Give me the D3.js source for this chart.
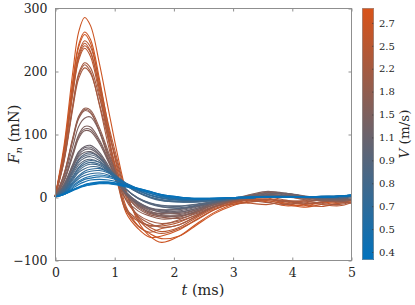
<!DOCTYPE html>
<html>
<head>
<meta charset="utf-8">
<script src="https://cdn.jsdelivr.net/npm/d3@7"></script>
<style>
  body { margin: 0; background: #fff; }
</style>
</head>
<body>
<div id="chart"></div>
<script>
// time samples (ms)
var timeMs = [0, 0.15, 0.3, 0.4, 0.5, 0.6, 0.75, 0.9, 1.05, 1.2, 1.4, 1.6, 1.8, 2.1, 2.4, 2.7, 3.0, 3.3, 3.6, 3.9, 4.2, 4.5, 4.8, 5.0];

// colorbar tick labels, V (m/s)
var velocityLabels = ["0.4", "0.5", "0.7", "0.8", "0.9", "1.1", "1.5", "1.8", "2.2", "2.5", "2.7"];

// velocity index (into velocityLabels) of each curve
var curveVelocity = [10, 10, 10, 9, 9, 9, 9, 8, 8, 8, 7, 7, 7, 6, 6, 6, 6, 5, 5, 5, 5,
                     4, 4, 4, 4, 3, 3, 3, 3, 2, 2, 2, 1, 1, 1, 0, 0, 0, 0];

// normal force Fn (mN) of each curve at timeMs
var curveForce = [
  [0, 80, 198, 262, 285, 272, 212, 140, 70, 10, -38, -62, -72, -62, -42, -24, -12, -8, -6, -12, -16, -12, -8, -6],
  [0, 74, 184, 242, 262, 250, 188, 112, 45, -15, -45, -58, -66, -62, -44, -26, -14, -6, -4, -10, -14, -9, -6, -4],
  [0, 72, 180, 238, 258, 244, 180, 100, 30, -25, -50, -64, -62, -52, -35, -20, -10, -5, -8, -14, -12, -8, -10, -5],
  [0, 70, 172, 228, 248, 238, 182, 116, 60, 8, -34, -52, -58, -50, -36, -20, -9, -3, -2, -8, -12, -15, -10, -8],
  [0, 68, 170, 224, 244, 231, 170, 98, 35, -20, -46, -56, -50, -44, -30, -16, -8, -10, -12, -6, -8, -12, -14, -9],
  [0, 66, 166, 220, 240, 229, 174, 108, 50, 0, -32, -48, -55, -48, -32, -18, -10, -4, -6, -10, -6, -4, -8, -6],
  [0, 65, 163, 217, 236, 223, 163, 92, 25, -22, -38, -45, -46, -40, -28, -15, -12, -8, -4, -6, -11, -8, -5, -3],
  [0, 58, 146, 196, 213, 205, 158, 104, 55, 5, -30, -42, -48, -44, -30, -16, -8, -2, 0, -5, -10, -8, -4, -2],
  [0, 57, 144, 193, 210, 199, 146, 82, 28, -18, -36, -46, -44, -36, -24, -12, -6, -6, -9, -12, -8, -5, -7, -10],
  [0, 55, 140, 188, 205, 196, 148, 92, 40, -5, -28, -38, -42, -38, -28, -15, -7, -3, -4, -7, -6, -10, -12, -8],
  [0, 36, 94, 128, 141, 138, 110, 72, 34, 4, -18, -28, -32, -34, -26, -15, -6, 0, 4, 2, -4, -6, -3, -2],
  [0, 35, 92, 126, 139, 135, 104, 62, 24, -4, -22, -30, -35, -32, -22, -12, -4, 3, 7, 5, 0, -4, -6, -3],
  [0, 34, 90, 124, 137, 133, 105, 66, 29, 2, -16, -26, -30, -30, -24, -14, -6, -2, 2, 0, -3, -6, -8, -5],
  [0, 30, 80, 112, 125, 127, 104, 68, 32, 6, -14, -24, -30, -30, -22, -12, -4, 2, 8, 6, 1, -3, -5, -4],
  [0, 26, 70, 99, 112, 111, 91, 60, 28, 5, -12, -22, -28, -28, -20, -10, -3, 4, 9, 4, -2, -2, -4, -2],
  [0, 25, 68, 96, 108, 107, 88, 58, 27, 4, -13, -24, -26, -24, -18, -10, -4, 0, 3, 6, 1, -5, -4, -3],
  [0, 24, 65, 93, 105, 104, 85, 56, 26, 4, -11, -20, -24, -26, -20, -12, -5, 0, 2, 1, 0, -3, -6, -4],
  [0, 20, 52, 72, 80, 82, 71, 50, 27, 8, -8, -18, -22, -24, -18, -10, -4, 1, 5, 6, 2, -1, -2, -1],
  [0, 19, 50, 70, 78, 79, 68, 48, 25, 7, -9, -19, -24, -22, -16, -9, -3, 2, 6, 3, 0, -2, -3, -2],
  [0, 18, 48, 67, 75, 76, 66, 46, 24, 6, -10, -18, -21, -20, -15, -9, -4, 0, 3, 2, -1, -3, -2, -1],
  [0, 17, 46, 64, 71, 72, 63, 44, 23, 6, -8, -17, -20, -19, -14, -8, -3, 1, 2, 3, 0, -2, -3, -1],
  [0, 16, 43, 60, 68, 70, 63, 47, 29, 13, -2, -11, -16, -18, -14, -8, -3, 0, 2, 2, 0, -1, -1, 0],
  [0, 15, 41, 58, 65, 67, 61, 45, 28, 12, -2, -10, -15, -17, -13, -8, -3, 0, 1, 1, 0, -1, -2, 0],
  [0, 14, 39, 55, 62, 64, 58, 43, 27, 12, -2, -10, -14, -15, -12, -7, -3, -1, 0, 1, 0, -1, -1, 0],
  [0, 13, 36, 51, 58, 60, 55, 41, 26, 12, -1, -9, -13, -14, -11, -7, -3, -1, 0, 0, 0, -1, 0, 1],
  [0, 12, 33, 47, 55, 58, 55, 45, 32, 20, 8, 0, -5, -8, -8, -6, -3, -1, 0, 0, 0, 0, 0, 1],
  [0, 11, 31, 45, 52, 55, 52, 43, 31, 19, 7, -1, -6, -8, -8, -5, -3, -1, 0, 0, 0, 0, 0, 1],
  [0, 10, 29, 42, 49, 52, 50, 41, 30, 19, 8, 0, -5, -7, -7, -5, -2, -1, 0, 0, 0, 0, 1, 1],
  [0, 9, 27, 39, 45, 48, 47, 39, 29, 18, 7, 0, -4, -7, -6, -4, -2, -1, 0, 0, 0, 0, 0, 1],
  [0, 8, 24, 34, 41, 44, 45, 40, 32, 22, 11, 3, -2, -5, -5, -4, -2, -1, 0, 0, 0, 0, 1, 2],
  [0, 7, 22, 32, 38, 41, 42, 38, 30, 21, 11, 3, -2, -5, -5, -3, -2, -1, 0, 0, 0, 0, 1, 2],
  [0, 6, 20, 29, 34, 37, 38, 35, 28, 20, 10, 3, -1, -4, -4, -3, -2, -1, 0, 0, 0, 0, 1, 2],
  [0, 6, 18, 25, 30, 33, 35, 33, 29, 22, 13, 6, 1, -3, -4, -3, -2, -1, 0, 0, 0, 1, 1, 3],
  [0, 5, 16, 23, 28, 30, 32, 31, 27, 21, 13, 6, 1, -3, -4, -3, -2, -1, 0, 0, 0, 1, 1, 3],
  [0, 4, 14, 20, 24, 27, 28, 27, 24, 19, 12, 6, 1, -3, -3, -3, -2, -1, 0, 0, 0, 1, 2, 3],
  [0, 5, 12, 16, 20, 22, 24, 24, 22, 19, 14, 9, 4, 0, -3, -2, -1, 0, 0, 0, 0, 0, 1, 3],
  [0, 4, 11, 15, 19, 21, 23, 23, 21, 18, 14, 9, 4, 0, -3, -2, -1, 0, 0, 0, 0, 0, 1, 3],
  [0, 4, 11, 15, 18, 20, 22, 22, 20, 17, 13, 8, 3, -1, -2, -2, -1, 0, 0, 0, 0, 0, 1, 2],
  [0, 4, 10, 14, 17, 19, 21, 21, 19, 16, 12, 8, 3, -1, -2, -2, -1, 0, 0, 0, 0, 0, 1, 2]
];

var xTicks = [0, 1, 2, 3, 4, 5];
var yTicks = [-100, 0, 100, 200, 300];

var width = 415, height = 305;
var margin = { top: 8, left: 55 };
var plotW = 351 - margin.left, plotH = 260 - margin.top;
var serif = "DejaVu Serif";

var svg = d3.select("#chart").append("svg")
    .attr("width", width)
    .attr("height", height);

var g = svg.append("g")
    .attr("transform", "translate(" + margin.left + "," + margin.top + ")");

var x = d3.scaleLinear().domain([0, 5]).range([0, plotW]);
var y = d3.scaleLinear().domain([-100, 300]).range([plotH, 0]);

// colour map: index position along the colorbar
var cbLo = -0.35, cbHi = 10.65;
var color = d3.scaleLinear()
    .domain([cbLo, cbHi])
    .range(["#0072BD", "#D95319"])
    .interpolate(d3.interpolateRgb);

var line = d3.line()
    .x(function (d, i) { return x(timeMs[i]); })
    .y(function (d) { return y(d); })
    .curve(d3.curveCatmullRom.alpha(0.5));

g.selectAll(".curve")
    .data(curveForce)
    .enter().append("path")
    .attr("class", "curve")
    .attr("fill", "none")
    .attr("stroke", function (d, i) { return color(curveVelocity[i]); })
    .attr("stroke-width", 1.1)
    .attr("d", line);

// axes box
var boxColor = "#8f8f8f";
g.append("rect")
    .attr("x", 0.5).attr("y", 0.5)
    .attr("width", plotW).attr("height", plotH)
    .attr("fill", "none")
    .attr("stroke", boxColor);

var xAxis = g.append("g")
    .attr("transform", "translate(0.5," + (plotH + 0.5) + ")")
    .call(d3.axisBottom(x).tickValues(xTicks).tickFormat(d3.format("d"))
        .tickSizeInner(-3).tickSizeOuter(0).tickPadding(8));
var xTop = g.append("g")
    .attr("transform", "translate(0.5,0.5)")
    .call(d3.axisTop(x).tickValues(xTicks).tickSizeInner(-3).tickSizeOuter(0).tickFormat(""));
var yAxis = g.append("g")
    .attr("transform", "translate(0.5,0.5)")
    .call(d3.axisLeft(y).tickValues(yTicks).tickSizeInner(-3).tickSizeOuter(0).tickPadding(8));
var yRight = g.append("g")
    .attr("transform", "translate(" + (plotW + 0.5) + ",0.5)")
    .call(d3.axisRight(y).tickValues(yTicks).tickSizeInner(-3).tickSizeOuter(0).tickFormat(""));

[xAxis, xTop, yAxis, yRight].forEach(function (a) {
    a.attr("font-family", serif).attr("font-size", 12.5);
    a.select(".domain").remove();
    a.selectAll("line").attr("stroke", boxColor);
    a.selectAll("text").attr("fill", "#262626");
});

// x label
svg.append("text")
    .attr("x", 203)
    .attr("y", 295)
    .attr("text-anchor", "middle")
    .attr("font-family", serif)
    .attr("font-size", 14.5)
    .attr("fill", "#262626")
    .html('<tspan font-style="italic">t</tspan> (ms)');

// y label
svg.append("text")
    .attr("transform", "translate(19,134) rotate(-90)")
    .attr("text-anchor", "middle")
    .attr("font-family", serif)
    .attr("font-size", 14.5)
    .attr("fill", "#262626")
    .html('<tspan font-style="italic">F</tspan><tspan font-style="italic" font-size="10" dy="3">n</tspan><tspan dy="-3"> (mN)</tspan>');

// colorbar
var cbX = 362, cbW = 12, cbTop = 8, cbBot = 260;
var cbScale = d3.scaleLinear().domain([cbLo, cbHi]).range([cbBot, cbTop]);

var grad = svg.append("defs").append("linearGradient")
    .attr("id", "cbgrad")
    .attr("x1", 0).attr("y1", 1).attr("x2", 0).attr("y2", 0);
grad.append("stop").attr("offset", "0%").attr("stop-color", color(cbLo));
grad.append("stop").attr("offset", "100%").attr("stop-color", color(cbHi));

svg.append("rect")
    .attr("x", cbX).attr("y", cbTop)
    .attr("width", cbW).attr("height", cbBot - cbTop)
    .attr("fill", "url(#cbgrad)");

var cbAxis = svg.append("g")
    .attr("transform", "translate(" + (cbX + cbW) + ",0)")
    .call(d3.axisRight(cbScale)
        .tickValues(d3.range(velocityLabels.length))
        .tickFormat(function (d) { return velocityLabels[d]; })
        .tickSizeInner(-2).tickSizeOuter(0).tickPadding(5));
cbAxis.attr("font-family", serif).attr("font-size", 10);
cbAxis.select(".domain").remove();
cbAxis.selectAll("line").attr("stroke", "#333").attr("stroke-opacity", 0.6);
cbAxis.selectAll("text").attr("fill", "#262626");

svg.append("rect")
    .attr("x", cbX + 0.5).attr("y", cbTop + 0.5)
    .attr("width", cbW - 1).attr("height", cbBot - cbTop - 1)
    .attr("fill", "none")
    .attr("stroke", "#9a9a9a")
    .attr("stroke-width", 0.6);

svg.append("text")
    .attr("transform", "translate(409,134) rotate(-90)")
    .attr("text-anchor", "middle")
    .attr("font-family", serif)
    .attr("font-size", 13.5)
    .attr("fill", "#262626")
    .html('<tspan font-style="italic">V</tspan> (m/s)');
</script>
</body>
</html>
